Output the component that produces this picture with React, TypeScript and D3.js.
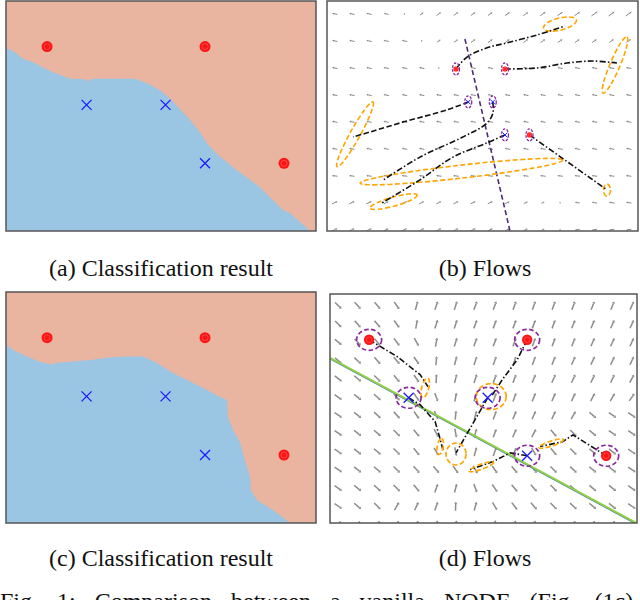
import React from 'react';
import * as d3 from 'd3';

type P = [number, number];

// ---------- data ----------
const redPoints: P[] = [[0, 2], [4, 2], [6, 0]];
const bluePoints: P[] = [[1, 1], [3, 1], [4, 0]];

const boundaryA: P[] = [
  [-1.04, 1.98], [-0.81, 1.9], [-0.61, 1.79], [-0.35, 1.73], [-0.1, 1.64], [0.15, 1.56], [0.58, 1.45],
  [0.96, 1.44], [1.04, 1.4], [1.11, 1.44], [1.22, 1.45], [2.23, 1.45], [2.53, 1.37], [2.86, 1.25],
  [3.11, 1.11], [3.32, 0.96], [3.62, 0.74], [3.87, 0.53], [4.05, 0.34], [4.33, 0.14], [4.71, -0.07],
  [5.39, -0.41], [5.97, -0.8], [6.15, -0.85], [6.66, -1.16],
];
const boundaryC: P[] = [
  [-1.04, 1.88], [-0.86, 1.79], [-0.51, 1.68], [-0.18, 1.59], [0.13, 1.54], [0.2, 1.57], [0.58, 1.59],
  [1.09, 1.62], [1.52, 1.66], [1.92, 1.68], [2.43, 1.68], [2.78, 1.57], [3.19, 1.4], [3.7, 1.23],
  [4.05, 1.11], [4.38, 0.99], [4.56, 0.94], [4.58, 0.65], [4.71, 0.43], [4.89, 0.21], [5.01, -0.09],
  [5.14, -0.38], [5.16, -0.6], [5.32, -0.77], [5.72, -0.94], [6.15, -1.16],
];

// (b) flows
const flowsB: P[][] = [
  [[0, 2], [0.9, 2.36], [2.53, 2.64], [4.16, 2.79], [6.61, 3.03], [8.9, 3.3]],
  [[4, 2], [6.61, 2.03], [9.06, 2.18], [11.18, 2.24], [13.14, 2.18]],
  [[1, 1], [-0.73, 0.76], [-4.33, 0.39], [-7.02, 0.09], [-8.41, -0.06]],
  [[3, 1], [3.02, 0.67], [2.53, 0.36], [0.57, -0.06], [-2.94, -0.67], [-6.04, -1.39]],
  [[4, 0], [2.53, -0.24], [-0.24, -0.67], [-2.94, -1.36], [-6.04, -2.06]],
  [[6, 0], [12.24, -1.64]],
];
const flowStylesB = ['dashdot', 'dashdot', 'dashed', 'dashdot', 'dashdot', 'dashdot'];
// end-state ellipses: center x, center y (data), semi-axes, rotation
const endEllipsesB: number[][] = [
  [8.49, 3.36, 17, 6, -14],
  [12.98, 2.12, 30.5, 5, -67],
  [-8.24, 0.02, 37, 5, -61],
  [0.45, -1.11, 102, 6.5, -6.5],
  [-5.1, -2.02, 24.5, 4.5, -15.5],
  [12.33, -1.67, 3.5, 6, 0],
];
const separatorB: P[] = [[0.73, 2.91], [4.41, -2.91]];

const quiverBX = [-9.9, -8.5, -7.1, -5.7, -4.2, -2.8, -1.4, 0, 1.4, 2.8, 4.2, 5.7, 7.1, 8.5, 9.9, 11.3, 12.7, 14.1];
const quiverBY = [3.67, 2.85, 2.03, 1.21, 0.4, -0.42, -1.24, -2.05, -2.87];
const quiverBAngle: number[][] = [
  [168, 168, 168, 168, 95, 35, 35, 35, 35, 35, 35, 35, 35, 35, 35, 35, 35, 35],
  [168, 168, 168, 168, 168, 95, 35, 35, 35, 35, 35, 35, 35, 35, 35, 35, 35, 35],
  [168, 168, 168, 168, 168, 168, 95, 168, 168, 168, 168, 168, 168, 168, 168, 168, 168, 168],
  [168, 168, 168, 168, 168, 168, 168, 168, 168, 168, 168, 168, 168, 168, 168, 168, 168, 168],
  [168, 168, 168, 168, 168, 168, 168, 168, 168, 168, 168, 168, 168, 168, 168, 168, 168, 168],
  [168, 168, 168, 168, 168, 168, 168, 168, 168, 168, 168, 168, 168, 168, 168, 168, 168, 168],
  [172, 172, 172, 172, 172, 172, 172, 172, 172, 172, 172, 172, 172, 172, 172, 172, 172, 172],
  [25, 25, 25, 25, 25, 25, 25, 25, 25, 25, 25, 25, 25, 95, 170, 170, 170, 170],
  [25, 25, 25, 25, 25, 25, 25, 25, 25, 25, 25, 25, 25, 95, 190, 190, 190, 190],
];
const quiverBMag: number[][] = [
  [1, 1, 1, 0.9, 0.3, 0.8, 1, 1, 1, 1, 1.1, 1.1, 1.2, 1.2, 1.2, 1.3, 1.3, 1.3],
  [1, 1, 1, 1, 1, 0.3, 0.8, 0.9, 1, 1, 1, 1, 1, 1, 1, 1, 1, 1],
  [1, 1, 1, 1, 1, 1, 0.3, 1, 1, 1, 1, 1, 1, 1, 1, 1, 1, 1],
  [1, 1, 1, 1, 1, 1, 1, 1, 1, 1, 1, 1, 1, 1, 1, 1, 1, 1],
  [1, 1, 1, 1, 1, 1, 1, 1, 1, 1, 1, 1, 1, 1, 1, 1, 1, 1],
  [1, 1, 1, 1, 1, 1, 1, 1, 1, 1, 1, 1, 1, 1, 1, 1, 1, 1],
  [1, 1, 1, 1, 1, 1, 1, 1, 1, 1, 1, 1, 1, 1, 1, 1, 1, 1],
  [1.1, 1.1, 1.1, 1, 1, 1, 1, 1, 1, 1, 0.9, 0.8, 0.6, 0.3, 0.9, 1, 1, 1],
  [1.1, 1.1, 1.1, 1, 1, 1, 1, 1, 1, 1, 0.9, 0.8, 0.6, 0.3, 0.9, 1, 1, 1],
];

// (d) flows
const flowsD: P[][] = [
  [[0, 2], [0.71, 1.71], [1.29, 1.4], [1.49, 1.19]],
  [[4, 2], [3.75, 1.66], [3.37, 1.31], [3.09, 1.02]],
  [[1, 1], [1.29, 0.88], [1.67, 0.59], [1.8, 0.28], [1.87, 0.1]],
  [[3, 1], [2.2, 0.05]],
  [[4, 0], [3.57, 0.05], [3.14, -0.1], [2.56, -0.24]],
  [[6, 0], [5.16, 0.36], [4.89, 0.24], [4.33, 0.16]],
];
const endEllipsesD: number[][] = [
  [1.42, 1.17, 10, 3.5, -75],
  [3.09, 1.02, 15, 13, 0],
  [1.8, 0.16, 8, 3, -80],
  [2.2, 0.03, 10, 11, 0],
  [2.84, -0.19, 13, 2.5, -20],
  [4.61, 0.21, 13, 2.5, -18],
];
const separatorD: P[] = [[-0.99, 1.69], [6.76, -1.16]];

const quiverDX = [-0.78, -0.29, 0.21, 0.7, 1.2, 1.7, 2.19, 2.69, 3.18, 3.68, 4.17, 4.67, 5.17, 5.66, 6.16, 6.65];
const quiverDY = [2.59, 2.27, 1.96, 1.64, 1.33, 1.01, 0.7, 0.39, 0.07, -0.24, -0.56, -0.87, -1.19];
const quiverDAngle: number[][] = [
  [-45, -48, -50, -55, 75, 72, 72, 70, 70, 70, 70, 70, 70, 68, 68, 66],
  [-45, -48, -50, -55, 80, 72, 72, 70, 70, 70, 70, 70, 68, 68, 66, 65],
  [-40, -45, -50, -52, -60, 80, 72, 70, 70, 70, 70, 70, 68, 66, 65, 65],
  [-40, -42, -48, -50, -55, 85, 75, 72, 70, 70, 70, 68, 66, 65, 65, 65],
  [-38, -40, -45, -50, -55, 88, 75, 72, 70, 70, 68, 66, 65, 65, 65, 62],
  [-35, -38, -42, -48, -55, -70, 80, 72, 70, 70, 68, 66, 65, 62, 60, 55],
  [-35, -38, -42, -48, -55, -65, 85, 75, 70, 68, 66, 65, 60, -40, -35, -35],
  [-35, -38, -40, -45, -50, -60, -80, 75, 70, 66, 62, -50, -45, -40, -35, -35],
  [-35, -38, -40, -45, -50, -60, -80, 75, 70, 65, -60, -50, -45, -40, -38, -35],
  [-35, -38, -40, -45, -48, -50, -55, -60, -55, -50, -48, -45, -42, -40, -38, -35],
  [-35, -38, -42, -45, -50, 70, 75, -70, -55, -50, -48, -45, -42, -40, -38, -35],
  [-35, -40, -45, 60, 65, 70, 88, 75, -60, -52, -48, -45, -42, -40, -38, -35],
  [55, 58, 60, 62, 65, 70, 75, 80, 80, 75, 70, 68, 65, 62, 60, 58],
];

const captions = ['(a) Classification result', '(b) Flows', '(c) Classification result', '(d) Flows'];
const figText = 'Fig. 1: Comparison between a vanilla NODE (Fig. (1c)';

// ---------- scales ----------
const xA = d3.scaleLinear().domain([-1.04, 6.81]).range([6, 316]);
const yA = d3.scaleLinear().domain([-1.16, 2.78]).range([231, 1]);
const yC = d3.scaleLinear().domain([-1.16, 2.78]).range([523, 292]);
const xB = d3.scaleLinear().domain([-10.53, 14.86]).range([327, 638]);
const yB = d3.scaleLinear().domain([-2.91, 4.06]).range([231, 1]);
const xD = d3.scaleLinear().domain([-0.99, 6.78]).range([330, 637]);
const yD = d3.scaleLinear().domain([-1.16, 2.79]).range([523, 294]);

const SALMON = '#eab5a0';
const BLUE_BG = '#9ac5e3';
const ORANGE = '#ffa500';
const PURPLE = '#8a2a9c';
const DASHDOT = '6,2.2,1.5,2.2';
const DASHED = '5.5,2.5';

function Dot({ x, y, r }: { x: number; y: number; r: number }) {
  return (
    <g>
      <circle cx={x} cy={y} r={r} fill="#ff1414" />
      <circle cx={x} cy={y} r={r * 0.55} fill="none" stroke="#ff7a7a" strokeWidth={0.6} opacity={0.8} />
    </g>
  );
}
function Cross({ x, y, s, w }: { x: number; y: number; s: number; w: number }) {
  return (
    <path d={`M${x - s},${y - s}L${x + s},${y + s}M${x - s},${y + s}L${x + s},${y - s}`} stroke="#1a1aff" strokeWidth={w} />
  );
}

function Quiver({ xs, ys, ang, mag, xS, yS, len, color, w, head }: any) {
  const items: any[] = [];
  ys.forEach((yv: number, i: number) => {
    xs.forEach((xv: number, j: number) => {
      const a = (ang[i][j] * Math.PI) / 180;
      const L = len * (mag ? mag[i][j] : 1);
      const cx = xS(xv), cy = yS(yv);
      const ux = Math.cos(a), uy = -Math.sin(a);
      const x1 = cx - (ux * L) / 2, y1 = cy - (uy * L) / 2;
      const x2 = cx + (ux * L) / 2, y2 = cy + (uy * L) / 2;
      const h = Math.min(head, L * 0.4), hw = w * 1.1;
      const bx = x2 - ux * h, by = y2 - uy * h;
      const px = -uy, py = ux;
      items.push(
        <g key={`${i}-${j}`}>
          <line x1={x1} y1={y1} x2={bx} y2={by} stroke={color} strokeWidth={w} />
          <path d={`M${x2},${y2}L${bx + px * hw},${by + py * hw}L${bx - px * hw},${by - py * hw}Z`} fill={color} />
        </g>
      );
    });
  });
  return <g>{items}</g>;
}

function EllipseMark({ e, xS, yS, color, w, dash }: any) {
  const cx = xS(e[0]), cy = yS(e[1]);
  return (
    <ellipse cx={cx} cy={cy} rx={e[2]} ry={e[3]} transform={`rotate(${e[4]},${cx},${cy})`}
      fill="none" stroke={color} strokeWidth={w} strokeDasharray={dash} />
  );
}

function ClassPanel({ boundary, yS, id }: { boundary: P[]; yS: any; id: string }) {
  const [x0, x1] = xA.domain();
  const [y0, y1] = yS.domain();
  const last = boundary[boundary.length - 1];
  const poly: P[] = [...boundary, [last[0], y0], [x0, y0]];
  const area = d3.line<P>().x((d) => xA(d[0])).y((d) => yS(d[1]));
  const rx = xA(x0), ry = yS(y1), rw = xA(x1) - xA(x0), rh = yS(y0) - yS(y1);
  return (
    <g>
      <defs>
        <clipPath id={id}><rect x={rx} y={ry} width={rw} height={rh} /></clipPath>
      </defs>
      <g clipPath={`url(#${id})`}>
        <rect x={rx} y={ry} width={rw} height={rh} fill={SALMON} />
        <path d={area(poly) + 'Z'} fill={BLUE_BG} />
      </g>
      {redPoints.map((p, i) => <Dot key={'r' + i} x={xA(p[0])} y={yS(p[1])} r={5.5} />)}
      {bluePoints.map((p, i) => <Cross key={'b' + i} x={xA(p[0])} y={yS(p[1])} s={5} w={1.3} />)}
      <rect x={rx} y={ry} width={rw} height={rh} fill="none" stroke="#555" strokeWidth={1.5} />
    </g>
  );
}

function FlowPanelB() {
  const [x0, x1] = xB.domain();
  const [y0, y1] = yB.domain();
  const rx = xB(x0), ry = yB(y1), rw = xB(x1) - xB(x0), rh = yB(y0) - yB(y1);
  const line = d3.line<P>().x((d) => xB(d[0])).y((d) => yB(d[1])).curve(d3.curveCatmullRom.alpha(0.5));
  const allPts = [...redPoints, ...bluePoints];
  return (
    <g>
      <defs><clipPath id="clipB"><rect x={rx} y={ry} width={rw} height={rh} /></clipPath></defs>
      <rect x={rx} y={ry} width={rw} height={rh} fill="#fff" />
      <g clipPath="url(#clipB)">
        <Quiver xs={quiverBX} ys={quiverBY} ang={quiverBAngle} mag={quiverBMag} xS={xB} yS={yB} len={5.5} color="#888" w={1} head={2} />
        <path d={line(separatorB) as string} fill="none" stroke="#4e2a78" strokeWidth={1.6} strokeDasharray="5,3" />
        {endEllipsesB.map((e, i) => <EllipseMark key={'e' + i} e={e} xS={xB} yS={yB} color={ORANGE} w={1.6} dash="5,2.5" />)}
        {flowsB.map((f, i) => (
          <path key={'f' + i} d={line(f) as string} fill="none" stroke="#111" strokeWidth={1.6}
            strokeDasharray={flowStylesB[i] === 'dashed' ? DASHED : DASHDOT} />
        ))}
        {allPts.map((p, i) => (
          <ellipse key={'pe' + i} cx={xB(p[0])} cy={yB(p[1])} rx={3.5} ry={6} fill="none" stroke={PURPLE} strokeWidth={1.3} strokeDasharray="2.5,1.5" />
        ))}
        {redPoints.map((p, i) => <Dot key={'r' + i} x={xB(p[0])} y={yB(p[1])} r={2.6} />)}
        {bluePoints.map((p, i) => <Cross key={'b' + i} x={xB(p[0])} y={yB(p[1])} s={2.4} w={1} />)}
      </g>
      <rect x={rx} y={ry} width={rw} height={rh} fill="none" stroke="#555" strokeWidth={1.5} />
    </g>
  );
}

function FlowPanelD() {
  const [x0, x1] = xD.domain();
  const [y0, y1] = yD.domain();
  const rx = xD(x0), ry = yD(y1), rw = xD(x1) - xD(x0), rh = yD(y0) - yD(y1);
  const line = d3.line<P>().x((d) => xD(d[0])).y((d) => yD(d[1]));
  const allPts = [...redPoints, ...bluePoints];
  return (
    <g>
      <defs><clipPath id="clipD"><rect x={rx} y={ry} width={rw} height={rh} /></clipPath></defs>
      <rect x={rx} y={ry} width={rw} height={rh} fill="#fff" />
      <g clipPath="url(#clipD)">
        <Quiver xs={quiverDX} ys={quiverDY} ang={quiverDAngle} xS={xD} yS={yD} len={9} color="#8c8c8c" w={1.5} head={2.2} />
        <path d={line(separatorD) as string} fill="none" stroke="#3f74c0" strokeWidth={1.4} transform="translate(0,0.9)" />
        <path d={line(separatorD) as string} fill="none" stroke="#8fd140" strokeWidth={2} />
        {flowsD.map((f, i) => (
          <path key={'f' + i} d={line(f) as string} fill="none" stroke="#111" strokeWidth={1.6} strokeDasharray={DASHDOT} />
        ))}
        {endEllipsesD.map((e, i) => <EllipseMark key={'e' + i} e={e} xS={xD} yS={yD} color={ORANGE} w={1.7} dash="5,2.5" />)}
        {allPts.map((p, i) => (
          <ellipse key={'pe' + i} cx={xD(p[0])} cy={yD(p[1])} rx={12.5} ry={10.5} fill="none" stroke={PURPLE} strokeWidth={1.7} strokeDasharray="4.5,2.5" />
        ))}
        {redPoints.map((p, i) => <Dot key={'r' + i} x={xD(p[0])} y={yD(p[1])} r={5.2} />)}
        {bluePoints.map((p, i) => <Cross key={'b' + i} x={xD(p[0])} y={yD(p[1])} s={5} w={1.3} />)}
      </g>
      <rect x={rx} y={ry} width={rw} height={rh} fill="none" stroke="#555" strokeWidth={1.5} />
    </g>
  );
}

export default function App() {
  const font = "'Liberation Serif', 'Times New Roman', Times, serif";
  const capX = [161, 485, 161, 485];
  const capY = [276, 276, 566, 566];
  return (
    <svg width={640} height={600} viewBox="0 0 640 600" style={{ position: 'absolute', left: 0, top: 0, background: '#fff' }}>
      <rect x={0} y={0} width={640} height={600} fill="#fff" />
      <ClassPanel boundary={boundaryA} yS={yA} id="clipA" />
      <ClassPanel boundary={boundaryC} yS={yC} id="clipC" />
      <FlowPanelB />
      <FlowPanelD />
      {captions.map((c, i) => (
        <text key={c + i} x={capX[i]} y={capY[i]} textAnchor="middle" fontFamily={font} fontSize={24} fill="#111">{c}</text>
      ))}
      <text x={0} y={609} fontFamily={font} fontSize={24} fill="#111" style={{ wordSpacing: '13px' }}>{figText}</text>
    </svg>
  );
}
